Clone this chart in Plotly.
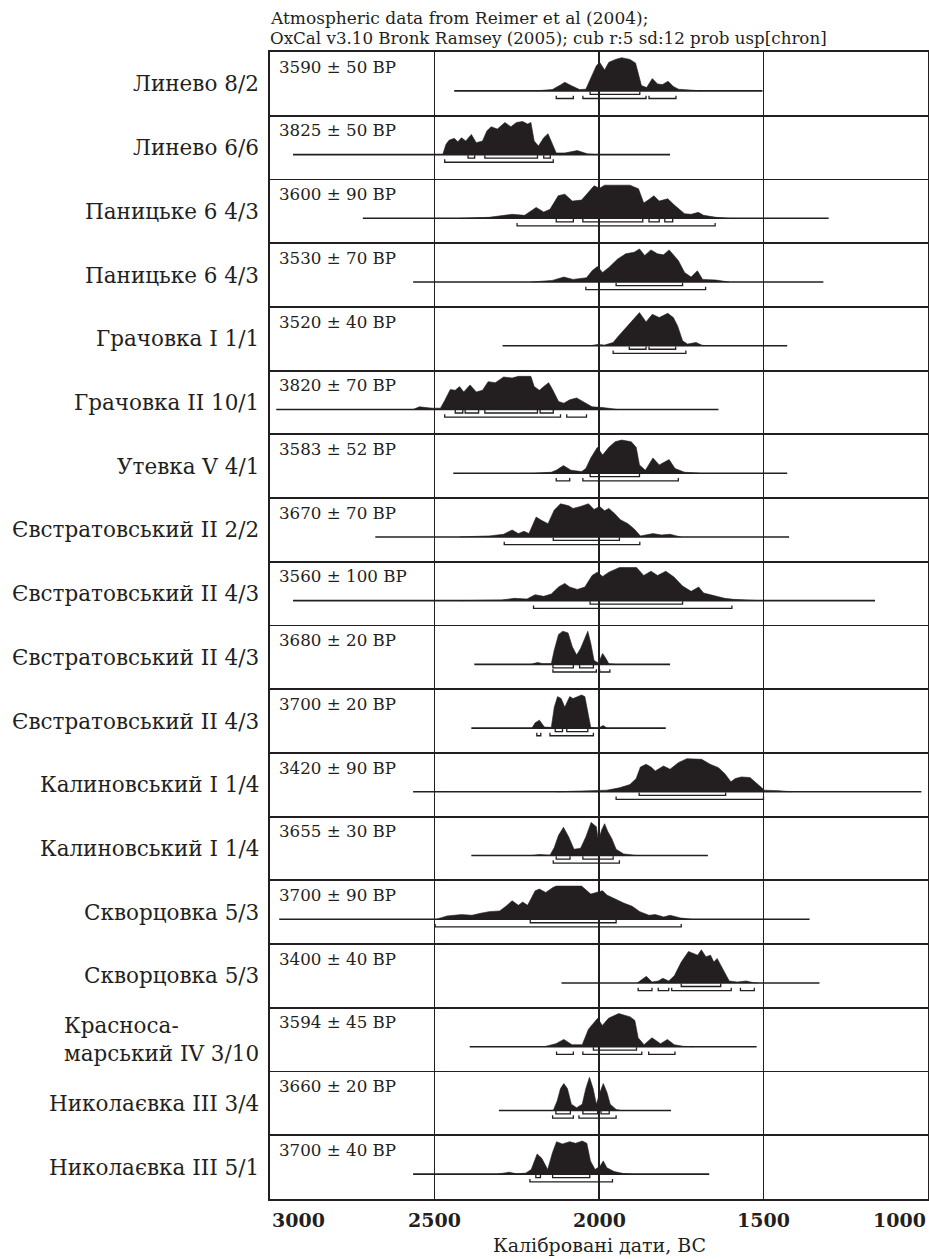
import plotly.graph_objects as go

# ---------------- data ----------------
labels = ["Линево 8/2", "Линево 6/6", "Паницьке 6 4/3", "Паницьке 6 4/3",
          "Грачовка I 1/1", "Грачовка II 10/1", "Утевка V 4/1",
          "Євстратовський II 2/2", "Євстратовський II 4/3", "Євстратовський II 4/3",
          "Євстратовський II 4/3", "Калиновський I 1/4", "Калиновський I 1/4",
          "Скворцовка 5/3", "Скворцовка 5/3", "Красноса-<br>марський IV 3/10",
          "Николаєвка III 3/4", "Николаєвка III 5/1"]

bp_texts = ["3590 ± 50 BP", "3825 ± 50 BP", "3600 ± 90 BP", "3530 ± 70 BP",
            "3520 ± 40 BP", "3820 ± 70 BP", "3583 ± 52 BP", "3670 ± 70 BP",
            "3560 ± 100 BP", "3680 ± 20 BP", "3700 ± 20 BP", "3420 ± 90 BP",
            "3655 ± 30 BP", "3700 ± 90 BP", "3400 ± 40 BP", "3594 ± 45 BP",
            "3660 ± 20 BP", "3700 ± 40 BP"]

span_start = [2440, 2930, 2718, 2565, 2293, 2981, 2443, 2680, 2930, 2379, 2388, 2565,
              2388, 2972, 2114, 2393, 2304, 2565]
span_end = [1503, 1784, 1302, 1318, 1428, 1637, 1428, 1422, 1161, 1784, 1797, 1020,
            1669, 1360, 1330, 1521, 1781, 1665]

curve_years = [
    [2194, 2142, 2117, 2104, 2085, 2059, 2040, 2027, 2008, 1998, 1983, 1970, 1950, 1931, 1906,
     1889, 1880, 1871, 1855, 1838, 1822, 1807, 1790, 1774, 1758, 1720, 1688],
    [2475, 2465, 2456, 2440, 2429, 2418, 2405, 2388, 2373, 2354, 2341, 2328, 2309, 2286, 2268,
     2251, 2232, 2217, 2207, 2197, 2184, 2168, 2155, 2142, 2130, 2104, 2066, 2034, 2008],
    [2424, 2334, 2264, 2226, 2191, 2168, 2149, 2124, 2104, 2081, 2053, 2034, 2015, 1998, 1983,
     1950, 1906, 1880, 1864, 1848, 1833, 1817, 1791, 1772, 1740, 1720, 1698, 1682, 1644, 1605],
    [2206, 2142, 2107, 2079, 2038, 2021, 2005, 1989, 1970, 1944, 1919, 1893, 1877, 1861, 1842,
     1822, 1804, 1787, 1772, 1759, 1740, 1720, 1701, 1685, 1644, 1605],
    [2027, 2004, 1983, 1957, 1940, 1918, 1899, 1877, 1857, 1838, 1817, 1791, 1774, 1761, 1746,
     1731, 1705, 1688, 1676],
    [2565, 2546, 2507, 2482, 2469, 2452, 2437, 2424, 2411, 2392, 2373, 2354, 2337, 2315, 2290,
     2264, 2245, 2207, 2197, 2181, 2168, 2153, 2140, 2123, 2107, 2089, 2068, 2047, 2021, 1989, 1944],
    [2194, 2145, 2130, 2108, 2085, 2053, 2040, 2025, 2005, 1989, 1970, 1951, 1931, 1902, 1887,
     1877, 1859, 1836, 1817, 1787, 1769, 1740, 1694],
    [2424, 2334, 2290, 2264, 2245, 2228, 2213, 2191, 2175, 2155, 2136, 2117, 2092, 2079, 2056,
     2032, 2015, 1998, 1983, 1970, 1953, 1935, 1912, 1893, 1874, 1836, 1810, 1784, 1752],
    [2424, 2296, 2258, 2219, 2194, 2168, 2145, 2123, 2104, 2089, 2066, 2043, 2021, 2005, 1989,
     1970, 1938, 1886, 1864, 1842, 1822, 1797, 1772, 1746, 1720, 1697, 1682, 1656, 1618, 1592,
     1528, 1509],
    [2206, 2187, 2171, 2145, 2136, 2123, 2110, 2094, 2081, 2068, 2056, 2043, 2034, 2025, 2015,
     2002, 1989, 1979, 1970, 1951],
    [2204, 2194, 2181, 2166, 2145, 2136, 2126, 2115, 2104, 2089, 2079, 2066, 2053, 2043, 2034,
     2025, 2002, 1987, 1976],
    [2130, 2027, 1976, 1938, 1906, 1887, 1874, 1857, 1842, 1829, 1804, 1784, 1759, 1733, 1688,
     1662, 1637, 1618, 1599, 1586, 1567, 1541, 1516, 1497, 1451, 1413],
    [2206, 2181, 2149, 2136, 2123, 2108, 2092, 2076, 2056, 2040, 2024, 2008, 2002, 1992, 1983,
     1973, 1961, 1948, 1925, 1886],
    [2494, 2462, 2418, 2386, 2360, 2334, 2302, 2283, 2264, 2245, 2232, 2217, 2194, 2181, 2162,
     2140, 2130, 2053, 2025, 2005, 1989, 1976, 1950, 1925, 1899, 1876, 1848, 1829, 1803, 1784,
     1752, 1720],
    [1884, 1870, 1856, 1839, 1820, 1806, 1788, 1771, 1750, 1728, 1712, 1700, 1689, 1675, 1661,
     1651, 1641, 1622, 1604, 1580, 1552, 1531, 1517],
    [2167, 2131, 2107, 2082, 2051, 2032, 2004, 1990, 1971, 1940, 1905, 1891, 1881, 1863, 1839,
     1813, 1792, 1771, 1743, 1714],
    [2139, 2127, 2117, 2107, 2096, 2084, 2068, 2051, 2040, 2029, 2018, 2008, 1997, 1987, 1976,
     1966, 1948, 1934],
    [2308, 2273, 2251, 2223, 2206, 2188, 2174, 2156, 2141, 2129, 2111, 2089, 2071, 2051, 2037,
     2026, 2012, 1997, 1987, 1976, 1954, 1926, 1898],
]

curve_heights = [
    [0, 0.04, 0.18, 0.26, 0.16, 0.04, 0.05, 0.32, 0.76, 0.86, 0.63, 0.86, 0.95, 1.0, 0.95,
     0.84, 0.53, 0.16, 0.10, 0.37, 0.21, 0.19, 0.29, 0.13, 0.05, 0.02, 0],
    [0, 0.31, 0.43, 0.49, 0.39, 0.51, 0.41, 0.61, 0.36, 0.41, 0.71, 0.84, 0.77, 0.97, 0.84,
     0.97, 1.0, 0.92, 0.97, 0.41, 0.26, 0.51, 0.63, 0.31, 0.05, 0.05, 0.12, 0.02, 0],
    [0, 0.03, 0.12, 0.09, 0.33, 0.19, 0.27, 0.68, 0.73, 0.52, 0.55, 0.78, 0.98, 0.91, 1.0,
     1.0, 1.0, 0.89, 0.46, 0.57, 0.68, 0.52, 0.59, 0.41, 0.14, 0.12, 0.18, 0.09, 0.03, 0],
    [0, 0.05, 0.15, 0.08, 0.13, 0.34, 0.47, 0.29, 0.44, 0.69, 0.85, 0.90, 1.0, 0.80, 0.97,
     0.85, 0.82, 0.97, 0.80, 0.65, 0.29, 0.15, 0.34, 0.08, 0.06, 0],
    [0, 0.04, 0.02, 0.10, 0.30, 0.55, 0.75, 1.0, 0.72, 0.95, 0.85, 0.98, 0.85, 0.60, 0.15,
     0.05, 0.10, 0.02, 0],
    [0, 0.08, 0.04, 0.04, 0.27, 0.60, 0.58, 0.69, 0.53, 0.74, 0.53, 0.58, 0.84, 0.81, 0.98,
     0.95, 1.0, 1.0, 0.69, 0.58, 0.69, 0.81, 0.58, 0.24, 0.19, 0.29, 0.35, 0.22, 0.08, 0.06, 0],
    [0, 0.03, 0.09, 0.23, 0.09, 0.05, 0.14, 0.46, 0.78, 0.55, 0.78, 0.95, 1.0, 0.95, 0.78,
     0.25, 0.09, 0.46, 0.25, 0.41, 0.14, 0.03, 0],
    [0, 0.03, 0.08, 0.21, 0.10, 0.17, 0.10, 0.60, 0.50, 0.40, 0.81, 1.0, 0.94, 0.86, 0.92,
     1.0, 0.83, 0.92, 0.79, 0.86, 0.71, 0.52, 0.40, 0.24, 0.03, 0.10, 0.06, 0.08, 0],
    [0, 0.02, 0.07, 0.05, 0.18, 0.13, 0.20, 0.41, 0.52, 0.41, 0.34, 0.41, 0.76, 0.86, 0.73,
     0.86, 1.0, 1.0, 0.76, 0.89, 0.76, 0.89, 0.71, 0.44, 0.28, 0.41, 0.23, 0.16, 0.07, 0.04,
     0.02, 0],
    [0, 0.06, 0.02, 0.02, 0.43, 0.90, 1.0, 0.95, 0.53, 0.28, 0.48, 0.79, 1.0, 0.64, 0.12,
     0.04, 0.33, 0.18, 0.02, 0],
    [0, 0.16, 0.24, 0.03, 0.02, 0.63, 0.95, 0.89, 0.63, 0.95, 0.89, 0.95, 1.0, 0.95, 0.42,
     0.02, 0, 0.08, 0],
    [0, 0.02, 0.05, 0.12, 0.22, 0.40, 0.75, 0.83, 0.75, 0.63, 0.78, 0.68, 0.88, 1.0, 0.98,
     0.83, 0.73, 0.55, 0.30, 0.40, 0.45, 0.43, 0.22, 0.05, 0.03, 0],
    [0, 0.03, 0.01, 0.24, 0.61, 0.85, 0.56, 0.19, 0.22, 0.56, 1.0, 0.87, 0.45, 0.77, 0.96,
     0.72, 0.51, 0.19, 0.05, 0],
    [0, 0.10, 0.14, 0.12, 0.18, 0.23, 0.25, 0.39, 0.56, 0.42, 0.52, 0.42, 0.86, 0.91, 0.81,
     0.96, 1.0, 1.0, 0.76, 0.81, 0.86, 0.73, 0.60, 0.49, 0.39, 0.23, 0.12, 0.14, 0.07, 0.12,
     0.04, 0],
    [0, 0.11, 0.20, 0.03, 0.06, 0.14, 0.06, 0.22, 0.63, 0.95, 0.90, 0.84, 1.0, 0.79, 0.84,
     0.63, 0.74, 0.38, 0.06, 0.03, 0.06, 0.01, 0],
    [0, 0.09, 0.22, 0.06, 0.06, 0.53, 0.86, 0.64, 0.86, 1.0, 0.90, 0.79, 0.27, 0.06, 0.27,
     0.09, 0.22, 0.06, 0.01, 0],
    [0, 0.29, 0.66, 0.81, 0.66, 0.19, 0.08, 0.19, 0.66, 1.0, 0.66, 0.19, 0.55, 0.81, 0.55,
     0.19, 0.03, 0],
    [0, 0.06, 0.01, 0.03, 0.14, 0.61, 0.48, 0.14, 0.66, 0.98, 0.91, 0.98, 0.93, 1.0, 0.93,
     0.40, 0.14, 0.24, 0.40, 0.19, 0.08, 0.02, 0],
]

range68 = [
    [(2027, 1876)],
    [(2398, 2378), (2347, 2187), (2168, 2148)],
    [(2130, 2078), (2049, 1867), (1848, 1817), (1800, 1776)],
    [(1948, 1746)],
    [(1908, 1857), (1848, 1767)],
    [(2437, 2414), (2407, 2366), (2347, 2187), (2179, 2139)],
    [(2027, 1877)],
    [(2139, 1938)],
    [(2027, 1746)],
    [(2140, 2078), (2059, 2017)],
    [(2133, 2111), (2098, 2034)],
    [(1878, 1615)],
    [(2130, 2088), (2049, 1957)],
    [(2209, 1948)],
    [(1750, 1630)],
    [(2017, 1886)],
    [(2131, 2087), (2049, 2004), (1994, 1969)],
    [(2192, 2178), (2141, 2028)],
]

range95 = [
    [(2130, 2078), (2049, 1857), (1848, 1766)],
    [(2469, 2139)],
    [(2249, 1647)],
    [(2040, 1676)],
    [(1957, 1736)],
    [(2469, 2117), (2098, 2038)],
    [(2130, 2089), (2049, 1759)],
    [(2288, 1876)],
    [(2199, 1596)],
    [(2140, 2008), (1998, 1967)],
    [(2189, 2177), (2149, 2017)],
    [(1948, 1500)],
    [(2139, 1938)],
    [(2498, 1750)],
    [(1881, 1839), (1820, 1788), (1779, 1598), (1570, 1528)],
    [(2129, 2078), (2049, 1870), (1849, 1769)],
    [(2141, 2078), (2061, 1948)],
    [(2210, 1959)],
]

x_ticks = [3000, 2500, 2000, 1500, 1000]
x_tick_anchor = ["left", "center", "center", "center", "right"]
header_lines = ["Atmospheric data from Reimer et al (2004);",
                "OxCal v3.10 Bronk Ramsey (2005); cub r:5 sd:12 prob usp[chron]"]
x_title = "Калібровані дати, BC"

# ---------------- layout constants (fractions of a row) ----------------
BASE = 0.61     # baseline of each distribution
PEAK = 0.52     # max height of distribution
Y68 = 0.665
Y95 = 0.73
TICK = 0.045
INK = "#231f20"
FONT = "DejaVu Serif"

n = len(labels)
fig = go.Figure()

for i in range(n):
    yb = i + BASE
    # probability distribution
    fig.add_trace(go.Scatter(
        x=curve_years[i],
        y=[yb - PEAK * h for h in curve_heights[i]],
        mode="lines", fill="toself", fillcolor=INK,
        line=dict(color=INK, width=0.6), hoverinfo="skip", showlegend=False))
    # calibration span line
    fig.add_trace(go.Scatter(
        x=[span_start[i], span_end[i]], y=[yb, yb], mode="lines",
        line=dict(color=INK, width=1.6), hoverinfo="skip", showlegend=False))
    # range brackets
    for ranges, yy in ((range68[i], i + Y68), (range95[i], i + Y95)):
        bx, by = [], []
        for a, b in ranges:
            bx += [a, a, b, b, None]
            by += [yy - TICK, yy, yy, yy - TICK, None]
        fig.add_trace(go.Scatter(
            x=bx, y=by, mode="lines", line=dict(color=INK, width=1.3),
            hoverinfo="skip", showlegend=False))

annotations = []
for i in range(n):
    annotations.append(dict(
        x=0, xref="paper", xshift=-9, xanchor="right", align="left",
        y=i + 0.5, yref="y", yanchor="middle",
        text=labels[i], showarrow=False,
        font=dict(family=FONT, size=21.5, color=INK)))
    annotations.append(dict(
        x=0, xref="paper", xshift=7, xanchor="left",
        y=i + 0.23, yref="y", yanchor="middle",
        text=bp_texts[i], showarrow=False,
        font=dict(family=FONT, size=16.7, color=INK)))

# x tick labels (end labels kept inside the frame, as in the original)
for t, anc in zip(x_ticks, x_tick_anchor):
    annotations.append(dict(x=t, xref="x", xanchor=anc, y=0, yref="paper",
                            yanchor="middle", yshift=-21, text=str(t), showarrow=False,
                            font=dict(family=FONT, size=19, color=INK, weight="bold")))

annotations.append(dict(x=0, xref="paper", xanchor="left", xshift=-2, y=1, yref="paper",
                        yanchor="middle", yshift=34, text=header_lines[0], showarrow=False,
                        font=dict(family=FONT, size=17, color=INK)))
annotations.append(dict(x=0, xref="paper", xanchor="left", xshift=-2, y=1, yref="paper",
                        yanchor="middle", yshift=14, text=header_lines[1], showarrow=False,
                        font=dict(family=FONT, size=16.7, color=INK)))
annotations.append(dict(x=0.5, xref="paper", xanchor="center", y=0, yref="paper",
                        yanchor="middle", yshift=-46, text=x_title, showarrow=False,
                        font=dict(family=FONT, size=19, color=INK)))

fig.update_layout(
    width=929, height=1259,
    margin=dict(l=270, r=1, t=52, b=60, autoexpand=False),
    paper_bgcolor="white", plot_bgcolor="white",
    showlegend=False, hovermode=False,
    annotations=annotations,
    xaxis=dict(range=[3000, 1000], tickvals=x_ticks, showticklabels=False,
               showgrid=True, gridcolor=INK, gridwidth=1.5, zeroline=False,
               showline=True, linecolor=INK, linewidth=2, mirror=True, ticks="",
               automargin=False, fixedrange=True),
    yaxis=dict(range=[n, 0], tickvals=list(range(n + 1)), showgrid=True,
               gridcolor=INK, gridwidth=1.8, zeroline=False, showticklabels=False,
               showline=True, linecolor=INK, linewidth=2, mirror=True, ticks="",
               automargin=False, fixedrange=True),
)

# remove the page's default body margin so the 929x1259 figure fills the window exactly
page_fix = ("document.documentElement.style.margin='0';document.body.style.margin='0';"
            "document.body.style.padding='0';document.documentElement.style.overflow='hidden';"
            "document.body.style.overflow='hidden';")
fig.write_html("out.html", post_script=page_fix,
               config={"displayModeBar": False, "staticPlot": True})
